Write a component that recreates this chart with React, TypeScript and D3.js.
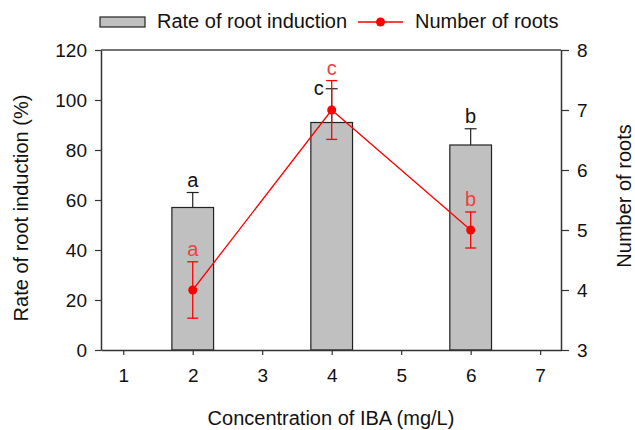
import { useEffect, useRef } from "react";
import * as d3 from "d3";

// concentration of IBA (mg/L)
const concentrations = [2, 4, 6];
const rateValues = [57, 91, 82];
const rateErrors = [6, 13.5, 6.5];
const rateLetters = ["a", "c", "b"];
const rootValues = [4.0, 7.0, 5.0];
const rootErrors = [0.47, 0.49, 0.3];
const rootLetters = ["a", "c", "b"];
const xTicks = [1, 2, 3, 4, 5, 6, 7];
const leftTicks = [0, 20, 40, 60, 80, 100, 120];
const rightTicks = [3, 4, 5, 6, 7, 8];

const W = 635;
const H = 430;
const m = { left: 101, right: 74, top: 50, bottom: 80 };
const font = "'Liberation Sans', Arial, sans-serif";
const fs = 20;

const Chart = () => {
  const ref = useRef<SVGSVGElement>(null);

  useEffect(() => {
    const svg = d3.select(ref.current);
    svg.selectAll("*").remove();

    const x = d3.scaleLinear().domain([0.68, 7.3]).range([m.left, W - m.right]);
    const yL = d3.scaleLinear().domain([0, 120]).range([H - m.bottom, m.top]);
    const yR = d3.scaleLinear().domain([3, 8]).range([H - m.bottom, m.top]);
    const barW = x(2.3) - x(1.7);

    // bars
    svg
      .append("g")
      .selectAll("rect")
      .data(concentrations)
      .join("rect")
      .attr("x", (d) => x(d) - barW / 2)
      .attr("y", (d, i) => yL(rateValues[i]))
      .attr("width", barW)
      .attr("height", (d, i) => yL(0) - yL(rateValues[i]))
      .attr("fill", "#c0c0c0")
      .attr("stroke", "#222")
      .attr("stroke-width", 1.2);

    // bar error bars (upper only)
    const be = svg.append("g").attr("stroke", "#222").attr("stroke-width", 1.2);
    concentrations.forEach((c, i) => {
      const top = yL(rateValues[i] + rateErrors[i]);
      be.append("line").attr("x1", x(c)).attr("x2", x(c)).attr("y1", yL(rateValues[i])).attr("y2", top);
      be.append("line").attr("x1", x(c) - 6).attr("x2", x(c) + 6).attr("y1", top).attr("y2", top);
    });

    // axes
    const axisColor = "#333";
    const fmt = d3.format("d");
    const gx = svg
      .append("g")
      .attr("transform", `translate(0,${H - m.bottom})`)
      .call(d3.axisBottom(x).tickValues(xTicks).tickFormat(fmt).tickSize(5).tickPadding(14).tickSizeOuter(0));
    const gl = svg
      .append("g")
      .attr("transform", `translate(${m.left},0)`)
      .call(d3.axisLeft(yL).tickValues(leftTicks).tickFormat(fmt).tickSize(6).tickPadding(8).tickSizeOuter(0));
    const gr = svg
      .append("g")
      .attr("transform", `translate(${W - m.right},0)`)
      .call(d3.axisRight(yR).tickValues(rightTicks).tickFormat(fmt).tickSize(8).tickPadding(8).tickSizeOuter(0));
    [gx, gl, gr].forEach((g) => {
      g.selectAll("text").attr("font-family", font).attr("font-size", 19).attr("fill", "#111");
      g.selectAll("line").attr("stroke", axisColor).attr("stroke-width", 1.2);
      g.select(".domain").attr("stroke", axisColor).attr("stroke-width", 1.5);
    });
    svg
      .append("line")
      .attr("x1", m.left)
      .attr("x2", W - m.right)
      .attr("y1", m.top)
      .attr("y2", m.top)
      .attr("stroke", "#444")
      .attr("stroke-width", 1.5);

    // line series
    const red = "#ff0000";
    const line = d3
      .line<number>()
      .x((d) => x(d))
      .y((d, i) => yR(rootValues[i]));
    svg.append("path").datum(concentrations).attr("fill", "none").attr("stroke", red).attr("stroke-width", 1.3).attr("d", line);

    const re = svg.append("g").attr("stroke", red).attr("stroke-width", 1.3);
    concentrations.forEach((c, i) => {
      const hi = yR(rootValues[i] + rootErrors[i]);
      const lo = yR(rootValues[i] - rootErrors[i]);
      re.append("line").attr("x1", x(c)).attr("x2", x(c)).attr("y1", lo).attr("y2", hi);
      re.append("line").attr("x1", x(c) - 5.5).attr("x2", x(c) + 5.5).attr("y1", hi).attr("y2", hi);
      re.append("line").attr("x1", x(c) - 5.5).attr("x2", x(c) + 5.5).attr("y1", lo).attr("y2", lo);
    });
    svg
      .append("g")
      .selectAll("circle")
      .data(concentrations)
      .join("circle")
      .attr("cx", (d) => x(d))
      .attr("cy", (d, i) => yR(rootValues[i]))
      .attr("r", 4.5)
      .attr("fill", red);

    // letters
    concentrations.forEach((c, i) => {
      const top = yL(rateValues[i] + rateErrors[i]);
      const isMid = i === 1;
      svg
        .append("text")
        .attr("x", isMid ? x(c) - 13 : x(c))
        .attr("y", isMid ? top + 6 : top - 6)
        .attr("text-anchor", "middle")
        .attr("font-family", font)
        .attr("font-size", fs)
        .attr("fill", "#111")
        .text(rateLetters[i]);
      const hi = yR(rootValues[i] + rootErrors[i]);
      svg
        .append("text")
        .attr("x", x(c))
        .attr("y", hi - 6)
        .attr("text-anchor", "middle")
        .attr("font-family", font)
        .attr("font-size", fs)
        .attr("fill", "#f04040")
        .text(rootLetters[i]);
    });

    // axis titles
    svg
      .append("text")
      .attr("transform", `translate(28,208) rotate(-90)`)
      .attr("text-anchor", "middle")
      .attr("font-family", font)
      .attr("font-size", fs)
      .attr("fill", "#111")
      .text("Rate of root induction (%)");
    svg
      .append("text")
      .attr("transform", `translate(631,196) rotate(-90)`)
      .attr("text-anchor", "middle")
      .attr("font-family", font)
      .attr("font-size", fs)
      .attr("fill", "#111")
      .text("Number of roots");
    svg
      .append("text")
      .attr("x", 331)
      .attr("y", 425)
      .attr("text-anchor", "middle")
      .attr("font-family", font)
      .attr("font-size", fs)
      .attr("fill", "#111")
      .text("Concentration of IBA (mg/L)");

    // legend
    const lg = svg.append("g");
    lg.append("rect").attr("x", 100).attr("y", 17).attr("width", 45).attr("height", 10).attr("fill", "#c0c0c0").attr("stroke", "#222").attr("stroke-width", 1.2);
    lg.append("text").attr("x", 157).attr("y", 28).attr("font-family", font).attr("font-size", fs).attr("fill", "#111").text("Rate of root induction");
    lg.append("line").attr("x1", 358).attr("x2", 403).attr("y1", 22).attr("y2", 22).attr("stroke", red).attr("stroke-width", 1.3);
    lg.append("circle").attr("cx", 380.5).attr("cy", 22).attr("r", 4.5).attr("fill", red);
    lg.append("text").attr("x", 415).attr("y", 28).attr("font-family", font).attr("font-size", fs).attr("fill", "#111").text("Number of roots");
  }, []);

  return (
    <svg
      ref={ref}
      width={W}
      height={H}
      style={{ position: "absolute", left: 0, top: 0, display: "block" }}
    />
  );
};

export default function App() {
  return <Chart />;
}
